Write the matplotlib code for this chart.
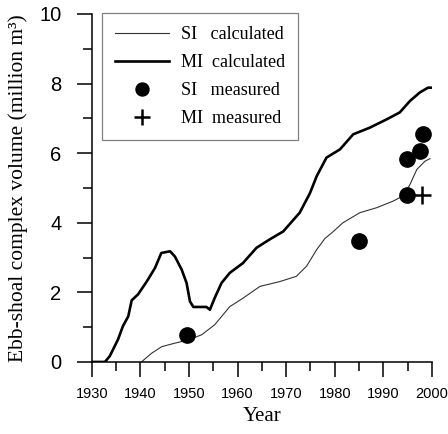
import matplotlib
matplotlib.use('Agg')
import matplotlib.pyplot as plt
from matplotlib.ticker import MultipleLocator

# MI calculated (thick line)
mi_year = [1930, 1932.7, 1933.7, 1935.4, 1936.4, 1937.5, 1938.2, 1939.5,
           1941.3, 1943.0, 1944.3, 1946.1, 1947.1, 1948.5, 1949.5, 1950.2,
           1950.9, 1953.6, 1954.3, 1955.3, 1956.7, 1958.4, 1961.1, 1963.9,
           1966.6, 1969.4, 1972.8, 1974.9, 1976.3, 1978.3, 1981.1, 1983.8,
           1987.2, 1990.7, 1993.4, 1995.5, 1997.5, 1999.2, 2000]
mi_vol = [0, 0, 0.17, 0.65, 1.03, 1.31, 1.77, 1.94,
          2.31, 2.70, 3.13, 3.18, 3.03, 2.65, 2.27, 1.74,
          1.58, 1.58, 1.50, 1.84, 2.27, 2.56, 2.84, 3.28,
          3.52, 3.75, 4.29, 4.85, 5.34, 5.87, 6.11, 6.54,
          6.73, 6.97, 7.17, 7.50, 7.74, 7.88, 7.88]

# SI calculated (thin line)
si_year = [1940.2, 1942.3, 1944.4, 1947.1, 1949.8, 1952.6, 1955.3, 1958.4,
           1961.2, 1964.6, 1968.7, 1972.1, 1974.2, 1976.3, 1978.0, 1979.4,
           1981.7, 1985.2, 1988.6, 1992.0, 1994.1, 1995.5, 1996.9, 1998.6,
           1999.6]
si_vol = [0, 0.25, 0.44, 0.54, 0.63, 0.78, 1.07, 1.59,
          1.84, 2.17, 2.31, 2.46, 2.75, 3.23, 3.55, 3.71,
          4.0, 4.29, 4.43, 4.62, 4.77, 5.10, 5.53, 5.77,
          5.84]

# measured volumes
si_meas_year = [1949.5, 1985.0, 1994.9, 1994.9, 1997.5, 1998.1]
si_meas_vol = [0.78, 3.47, 4.81, 5.84, 6.06, 6.54]
mi_meas_year = [1997.9]
mi_meas_vol = [4.81]

serif = 'Liberation Serif'
sans = 'Liberation Sans'

fig = plt.figure(figsize=(4.48, 4.34), dpi=100)
ax = fig.add_axes([0.205, 0.166, 0.759, 0.802])

ax.plot(si_year, si_vol, color='#333333', lw=0.8, label='SI   calculated')
ax.plot(mi_year, mi_vol, color='black', lw=1.9, label='MI  calculated')
ax.plot(si_meas_year, si_meas_vol, 'o', color='black', ms=11,
        label='SI   measured')
ax.plot(mi_meas_year, mi_meas_vol, '+', color='black', ms=13, mew=1.8,
        label='MI  measured')

ax.set_xlim(1930, 2000)
ax.set_ylim(0, 10)
ax.spines['top'].set_visible(False)
ax.spines['right'].set_visible(False)
for s in ['left', 'bottom']:
    ax.spines[s].set_linewidth(1.1)

ax.xaxis.set_major_locator(MultipleLocator(10))
ax.xaxis.set_minor_locator(MultipleLocator(5))
ax.yaxis.set_major_locator(MultipleLocator(2))
ax.yaxis.set_minor_locator(MultipleLocator(1))
ax.tick_params(which='major', direction='out', length=11, width=1.1)
ax.tick_params(which='minor', direction='out', length=6.5, width=1.1)
ax.tick_params(axis='x', which='major', pad=7)
ax.tick_params(axis='y', which='major', pad=11)

for t in ax.get_xticklabels():
    t.set_fontfamily(sans)
    t.set_fontsize(10.5)
for t in ax.get_yticklabels():
    t.set_fontfamily(sans)
    t.set_fontsize(14.5)

ax.set_xlabel('Year', fontfamily=serif, fontsize=15, labelpad=4)
ax.set_ylabel('Ebb-shoal complex volume (million m³)', fontfamily=serif,
              fontsize=15.5, labelpad=8)

leg = ax.legend(loc='upper left', bbox_to_anchor=(0.029, 1.003),
                borderaxespad=0, fancybox=False, framealpha=1,
                edgecolor='#808080', prop={'family': serif, 'size': 13},
                handlelength=3.0, handletextpad=0.66, labelspacing=0.62,
                borderpad=0.72, numpoints=1, markerscale=0.85)
leg.get_frame().set_linewidth(0.9)

fig.savefig('out.png', dpi=100)
